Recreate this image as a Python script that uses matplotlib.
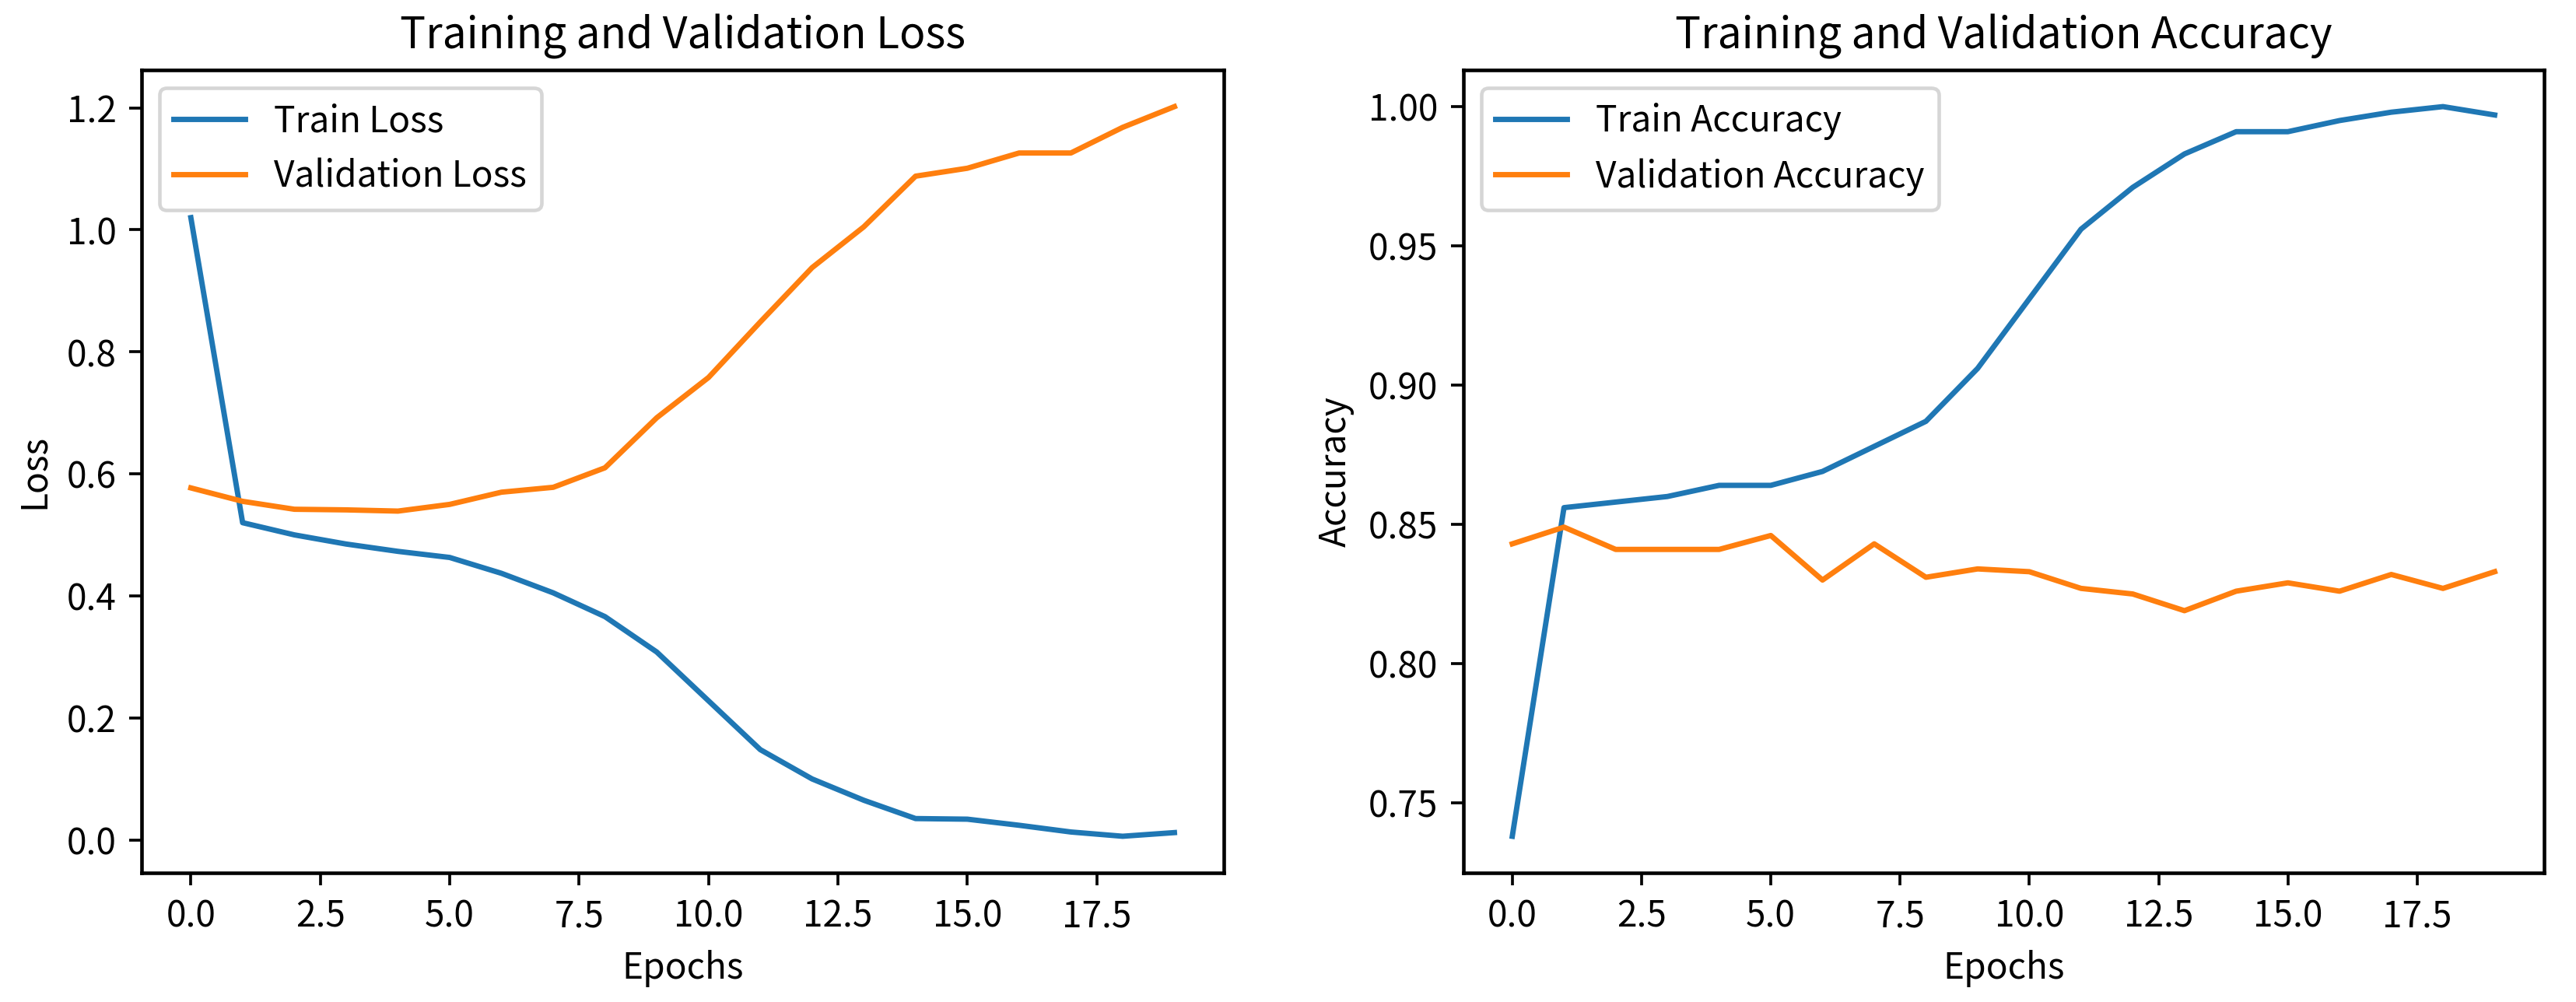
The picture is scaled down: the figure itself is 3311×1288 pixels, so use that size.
import matplotlib
matplotlib.use("Agg")
import matplotlib.pyplot as plt

plt.rcParams['font.family'] = ['Noto Sans CJK KR', 'DejaVu Sans']

epochs = list(range(20))
train_loss = [1.02, 0.52, 0.50, 0.485, 0.473, 0.463, 0.437, 0.405, 0.366, 0.308,
              0.228, 0.148, 0.100, 0.065, 0.035, 0.034, 0.024, 0.013, 0.006, 0.012]
val_loss = [0.577, 0.555, 0.542, 0.541, 0.539, 0.550, 0.570, 0.578, 0.610, 0.692,
            0.758, 0.849, 0.938, 1.005, 1.088, 1.101, 1.126, 1.126, 1.168, 1.202]
train_acc = [0.738, 0.856, 0.858, 0.860, 0.864, 0.864, 0.869, 0.878, 0.887, 0.906,
             0.931, 0.956, 0.971, 0.983, 0.991, 0.991, 0.995, 0.998, 1.000, 0.997]
val_acc = [0.843, 0.849, 0.841, 0.841, 0.841, 0.846, 0.830, 0.843, 0.831, 0.834,
           0.833, 0.827, 0.825, 0.819, 0.826, 0.829, 0.826, 0.832, 0.827, 0.833]

W, H = 3311, 1288
DPI = 331.1
fig = plt.figure(figsize=(W / DPI, H / DPI), dpi=DPI)
ax1 = fig.add_axes([0.055, 0.129, 0.420, 0.801])
ax2 = fig.add_axes([0.568, 0.129, 0.4195, 0.801])

ax1.plot(epochs, train_loss, label='Train Loss', color='#1f77b4')
ax1.plot(epochs, val_loss, label='Validation Loss', color='#ff7f0e')
ax1.set_title('Training and Validation Loss', fontsize=12)
ax1.set_xlabel('Epochs')
ax1.set_ylabel('Loss')
ax1.legend(loc='upper left')

ax2.plot(epochs, train_acc, label='Train Accuracy', color='#1f77b4')
ax2.plot(epochs, val_acc, label='Validation Accuracy', color='#ff7f0e')
ax2.set_title('Training and Validation Accuracy', fontsize=12)
ax2.set_xlabel('Epochs')
ax2.set_ylabel('Accuracy')
ax2.legend(loc='upper left')

for ax in (ax1, ax2):
    for s in ax.spines.values():
        s.set_linewidth(1.0)

fig.savefig('out.png', dpi=DPI)
